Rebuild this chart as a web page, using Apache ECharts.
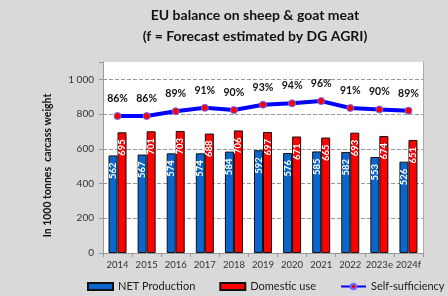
<!DOCTYPE html>
<html style="height: 100%;">
<head>
<meta charset="utf-8">
<title>EU balance on sheep & goat meat</title>
<script src="https://cdn.jsdelivr.net/npm/echarts@6/dist/echarts.min.js"></script>
</head>
<body style="height: 100%; margin: 0; background: #d9d9d9;">
<div id="container" style="width: 448px; height: 296px;"></div>
<script type="text/javascript">
// data
var years = ['2014', '2015', '2016', '2017', '2018', '2019', '2020', '2021', '2022', '2023e', '2024f'];
var netProduction = [562, 567, 574, 574, 584, 592, 576, 585, 582, 553, 526];
var domesticUse = [695, 701, 703, 688, 706, 697, 671, 665, 693, 674, 651];
var selfSufficiency = [85.8, 85.8, 89.0, 91.3, 89.8, 93.4, 94.3, 95.8, 91.2, 90.2, 89.4];
var yTicks = [0, 200, 400, 600, 800, 1000];

var font = 'Lato';
var dom = document.getElementById('container');
var myChart = echarts.init(dom, null, {renderer: 'canvas'});

// bar value labels, rotated inside top
var barLabel = {
  show: true,
  position: 'insideTop',
  rotate: 90,
  align: 'right',
  verticalAlign: 'middle',
  distance: 7,
  color: '#fff',
  fontWeight: 'bold',
  fontSize: 9.5,
  fontFamily: font
};

var option = {
  backgroundColor: '#d9d9d9',
  animation: false,
  title: {
    text: 'EU balance on sheep & goat meat\n(f = Forecast estimated by DG AGRI)',
    left: 255,
    top: 5,
    padding: 0,
    textAlign: 'center',
    textStyle: {
      fontFamily: font,
      fontSize: 14,
      fontWeight: 'bold',
      color: '#111',
      lineHeight: 21
    }
  },
  grid: {
    left: 103,
    right: 25,
    top: 62,
    bottom: 43,
    show: true,
    backgroundColor: '#fff',
    borderWidth: 0
  },
  legend: {
    left: 87,
    top: 281,
    width: 600,
    padding: 0,
    itemWidth: 25,
    itemHeight: 7,
    itemGap: 24,
    textStyle: {fontFamily: font, fontSize: 11, color: '#222'},
    data: [
      {name: 'NET Production', icon: 'rect'},
      {name: 'Domestic use', icon: 'rect'},
      {name: 'Self-sufficiency'}
    ]
  },
  xAxis: {
    type: 'category',
    data: years,
    axisLine: {lineStyle: {color: '#999'}},
    axisTick: {show: true, length: 4, lineStyle: {color: '#999'}},
    axisLabel: {fontFamily: font, fontSize: 9.5, color: '#333', margin: 7, interval: 0}
  },
  yAxis: [{
    type: 'value',
    min: 0,
    max: 1100,
    interval: 200,
    name: 'In 1000 tonnes  carcass weight',
    nameLocation: 'middle',
    nameGap: 50,
    nameTextStyle: {fontFamily: font, fontSize: 10.5, fontWeight: 'bold', color: '#111', padding: [0, 16, 0, 0]},
    axisLine: {show: true, lineStyle: {color: '#999'}},
    axisTick: {show: true, length: 4, lineStyle: {color: '#999'}},
    axisLabel: {
      fontFamily: font, fontSize: 10, color: '#333', margin: 9,
      formatter: function (v) {
        if (yTicks.indexOf(v) < 0) return '';
        return v >= 1000 ? Math.floor(v / 1000) + ' ' + String(v % 1000).padStart(3, '0') : String(v);
      }
    },
    splitLine: {lineStyle: {type: 'dashed', color: ['#999', '#999', '#999', '#999', '#999', '#999', '#fff']}}
  }, {
    type: 'value',
    min: -6,
    max: 122,
    axisLine: {show: true, lineStyle: {color: '#aaa'}},
    axisTick: {show: false},
    axisLabel: {show: false},
    splitLine: {show: false}
  }],
  series: [{
    name: 'NET Production',
    type: 'bar',
    data: netProduction,
    barWidth: 9,
    barGap: '0%',
    itemStyle: {color: '#0a66cc', borderColor: '#111', borderWidth: 1},
    label: barLabel
  }, {
    name: 'Domestic use',
    type: 'bar',
    data: domesticUse,
    barWidth: 9,
    itemStyle: {color: '#ff0000', borderColor: '#111', borderWidth: 1},
    label: barLabel
  }, {
    name: 'Self-sufficiency',
    type: 'line',
    yAxisIndex: 1,
    data: selfSufficiency,
    symbol: 'circle',
    symbolSize: 7,
    lineStyle: {color: '#0000ff', width: 4},
    itemStyle: {color: '#ff0000', borderColor: '#6a6aff', borderWidth: 1},
    label: {
      show: true,
      position: 'top',
      distance: 8,
      color: '#111',
      fontWeight: 'bold',
      fontSize: 10.5,
      fontFamily: font,
      formatter: function (p) { return Math.round(p.value) + '%'; }
    },
    z: 5
  }]
};

myChart.setOption(option);
</script>
</body>
</html>
